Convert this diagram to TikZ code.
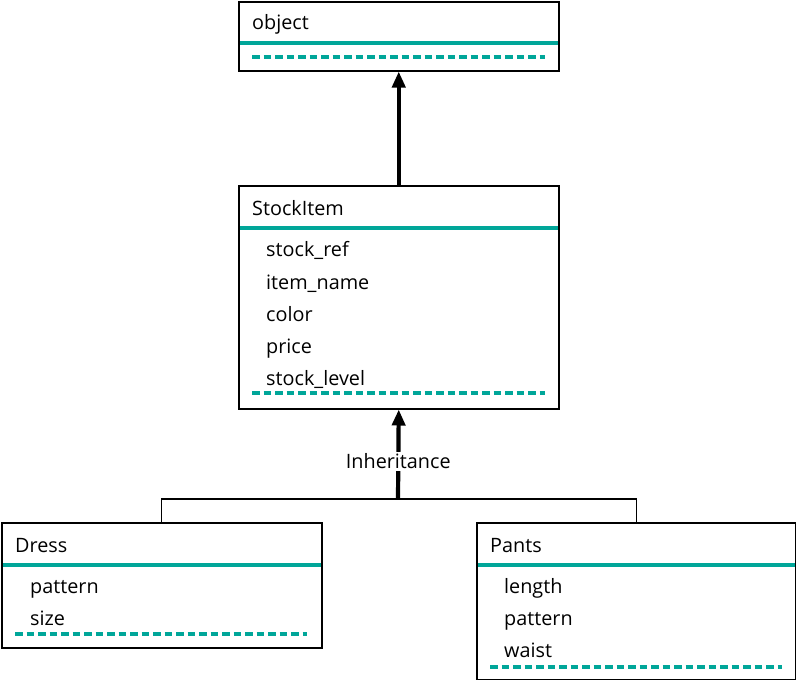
\documentclass[tikz,border=0pt]{standalone}
\usepackage{fontspec}
\setmainfont{Open Sans}
\usetikzlibrary{arrows.meta}
\definecolor{teal1}{RGB}{0,166,153}
\begin{document}
\begin{tikzpicture}[x=1pt,y=-1pt,
 classbox/.style={draw=black, line width=1.5pt, anchor=north west, inner sep=0pt},
 sepline/.style={draw=teal1, line width=3.2pt},
 dsepline/.style={draw=teal1, line width=3.2pt, dash pattern=on 7.5pt off 4pt},
 txt/.style={anchor=base west, inner sep=0pt, font=\fontsize{19.8}{22}\selectfont},
 gen/.style={line width=4.2pt, -{Triangle[length=16pt,width=13pt]}},
 link/.style={line width=1.3pt}]
\useasboundingbox (0,0) rectangle (796,680);
% object
\draw[sepline] (238,43) -- (558,43);
\draw[dsepline] (252,57) -- (545,57);
\node[classbox, minimum width=320pt, minimum height=69pt] (object) at (238,1) {};
\node[txt] (objectT) at (252,30) {object};
% StockItem
\draw[sepline] (238,228) -- (558,228);
\draw[dsepline] (252,393) -- (545,393);
\node[classbox, minimum width=320pt, minimum height=223pt] (stock) at (238,185) {};
\node[txt] (stockT) at (252,215) {StockItem};
\node[txt] (a1) at (266,256) {stock\_ref};
\node[txt] (a2) at (266,289) {item\_name};
\node[txt] (a3) at (266,321) {color};
\node[txt] (a4) at (266,353) {price};
\node[txt] (a5) at (266,385) {stock\_level};
% Dress
\draw[sepline] (1,565) -- (321,565);
\draw[dsepline] (15,634) -- (307,634);
\node[classbox, minimum width=320pt, minimum height=125pt] (dress) at (1,522) {};
\node[txt] (dressT) at (15,552) {Dress};
\node[txt] (d1) at (30,593) {pattern};
\node[txt] (d2) at (30,625) {size};
% Pants
\draw[sepline] (476,565) -- (795,565);
\draw[dsepline] (490,667) -- (782,667);
\node[classbox, minimum width=319pt, minimum height=157pt] (pants) at (476,522) {};
\node[txt] (pantsT) at (490,552) {Pants};
\node[txt] (p1) at (504,593) {length};
\node[txt] (p2) at (504,625) {pattern};
\node[txt] (p3) at (504,657) {waist};
% connectors
\draw[gen] (stock.north) -- (object.south);
\coordinate (junction) at (398,499);
\draw[link] (dress.north) |- (junction) -| (pants.north);
\draw[gen] (junction) -- (stock.south)
  node[pos=0.42, fill=white, inner sep=2pt, font=\fontsize{19.8}{22}\selectfont] (inh) {Inheritance};
\end{tikzpicture}
\end{document}
